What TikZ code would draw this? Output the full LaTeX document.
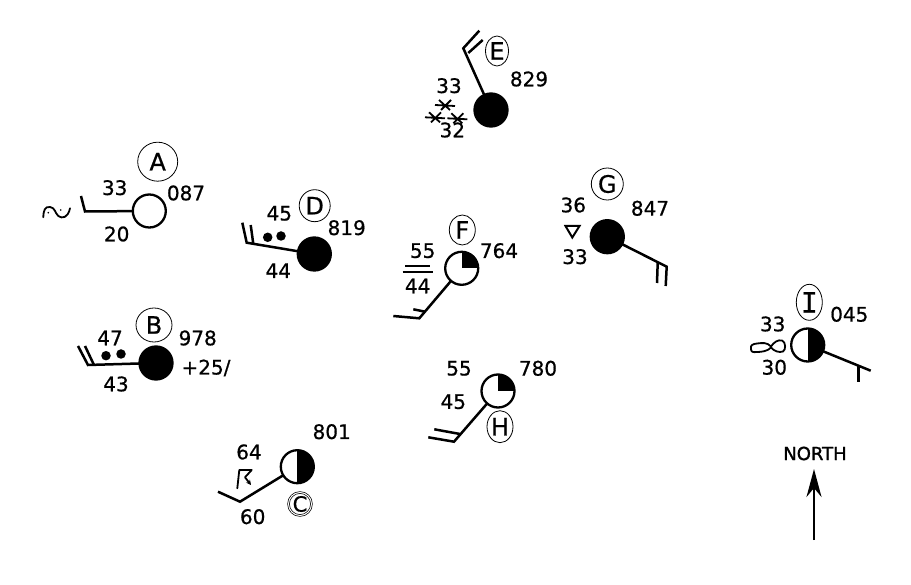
\documentclass[tikz,border=0pt]{standalone}
\usepackage{fontspec}
\setmainfont[FakeBold=0.7]{DejaVu Sans}
\newfontfamily\monolabel[FakeBold=0.7]{DejaVu Sans Mono}
\newfontfamily\northfont[FakeBold=1.6]{DejaVu Sans}
\usetikzlibrary{shapes.geometric,arrows.meta}
\tikzset{
  stn/.style={circle,draw=black,fill=white,line width=2.3pt,minimum size=33pt,inner sep=0pt,outer sep=0pt},
  stnfull/.style={stn,fill=black},
  stnhalf/.style={stn,path picture={\fill[black] (path picture bounding box.north) rectangle (path picture bounding box.south east);}},
  stnquarter/.style={stn,path picture={\fill[black] (path picture bounding box.center) rectangle (path picture bounding box.north east);}},
  shaft/.style={line width=2.5pt,line join=miter},
  wx/.style={line width=1.8pt,line cap=round,line join=round},
  num/.style={font=\fontsize{20}{20}\selectfont,inner sep=0pt},
  letter/.style={ellipse,draw=black,line width=0.8pt,inner sep=0pt,font=\fontsize{24}{24}\selectfont},
  dotw/.style={circle,fill=black,inner sep=0pt,minimum size=9.5pt},
  asterisk/.pic={\draw[line width=1.8pt] (-10,0)--(10,1) (-6,-5)--(5,5) (-4,5)--(6,-5);}
}
\begin{document}
\begin{tikzpicture}[x=1pt,y=-1pt]
\useasboundingbox (0,0) rectangle (911,585);
% A
\node[stn] (a) at (149.3,211) {};
\coordinate (a1) at (85,211.5); \coordinate (a2) at (81,196);
\draw[shaft] (a) -- (a1) -- (a2);
\node[letter,minimum width=40pt,minimum height=39pt] (la) at (157.7,161.7) {A};
\node[num] (a33) at (114.7,187.7) {33};
\node[num] (a20) at (116.7,234) {20};
\node[num] (a087) at (186,193) {087};
\draw[wx] (43.3,217.3) .. controls (43.5,210) and (45,206.5) .. (50,207) .. controls (55,207.5) and (55,213) .. (58.3,216) .. controls (62,219) and (68,218) .. (70,208.3);
\fill (48.3,212.7) circle (0.9pt) (60.7,210) circle (0.9pt);
% B
\node[stnfull] (b) at (156,363) {};
\coordinate (b1) at (88,365); \coordinate (b2) at (78,346);
\coordinate (b3) at (94,365); \coordinate (b4) at (85,346);
\draw[shaft] (b) -- (b1) -- (b2); \draw[shaft] (b3) -- (b4);
\node[dotw] (bd1) at (106,355.7) {}; \node[dotw] (bd2) at (121,354) {};
\node[letter,minimum width=36pt,minimum height=34pt] (lb) at (154,325) {B};
\node[num] (b47) at (110,338) {47};
\node[num] (b978) at (197.7,338) {978};
\node[num] (b25) at (206,368) {+25/};
\node[num] (b43) at (116,384) {43};
% C
\node[stnhalf] (c) at (297.3,466.7) {};
\coordinate (c1) at (240,501.7); \coordinate (c2) at (218,491.7);
\draw[shaft] (c) -- (c1) -- (c2);
\node[letter,double,double distance=1pt,line width=0.7pt,minimum width=23pt,minimum height=23pt,font=\fontsize{21}{21}\selectfont] (lc) at (300,504) {C};
\node[num] (c64) at (249,452) {64};
\node[num] (c60) at (252.7,516.7) {60};
\node[num] (c801) at (331.7,431.7) {801};
\draw[wx,-{Stealth[length=5pt,width=5pt]}] (237.3,488.3) -- (239.3,470) -- (251.7,470) -- (245,477.3) -- (251,485);
% D
\node[stnfull] (d) at (314.3,254) {};
\coordinate (d1) at (246.7,242.7); \coordinate (d2) at (242.3,222.7);
\coordinate (d3) at (253.3,244); \coordinate (d4) at (250.7,225);
\draw[shaft] (d) -- (d1) -- (d2); \draw[shaft] (d3) -- (d4);
\node[dotw] (dd1) at (267.7,237.3) {}; \node[dotw] (dd2) at (281,236) {};
\node[letter,minimum width=31pt,minimum height=32pt] (ld) at (314.7,205.7) {D};
\node[num] (d45) at (279.3,213.3) {45};
\node[num] (d819) at (346.7,227.7) {819};
\node[num] (d44) at (278.3,270.7) {44};
% E
\node[stnfull] (e) at (491,110) {};
\coordinate (e1) at (463.3,48.3); \coordinate (e2) at (479.3,30.7);
\coordinate (e3) at (468.3,53); \coordinate (e4) at (482.7,40);
\draw[shaft] (e) -- (e1) -- (e2); \draw[shaft] (e3) -- (e4);
\node[letter,minimum width=23pt,minimum height=30pt] (le) at (497,51) {E};
\node[num] (e829) at (529,79) {829};
\node[num] (e33) at (449,85.7) {33};
\node[num] (e32) at (452.3,130) {32};
\pic at (445,105) {asterisk};
\pic at (435,117.3) {asterisk};
\pic at (457.3,118.3) {asterisk};
% F
\node[stnquarter] (f) at (461.7,268.3) {};
\coordinate (f1) at (419.3,318.3); \coordinate (f2) at (393.3,316);
\coordinate (f3) at (425,311.7); \coordinate (f4) at (413.3,309.3);
\draw[shaft] (f) -- (f1) -- (f2); \draw[shaft] (f3) -- (f4);
\node[letter,minimum width=26pt,minimum height=30pt] (lf) at (462.3,230) {F};
\node[num] (f55) at (422.7,250.7) {55};
\node[num] (f764) at (499,250.7) {764};
\node[num] (f44) at (417.7,286) {44};
\draw[line width=1.6pt] (405,266) -- (430,266) (402.7,272.3) -- (433.3,272.3);
% G
\node[stnfull] (g) at (607.3,236.7) {};
\coordinate (g1) at (666.7,266.7); \coordinate (g2) at (665.7,286);
\coordinate (g3) at (657.7,263); \coordinate (g4) at (657,283);
\draw[shaft] (g) -- (g1) -- (g2); \draw[shaft] (g3) -- (g4);
\node[letter,minimum width=32pt,minimum height=32pt] (lg) at (607.3,184) {G};
\node[num] (g36) at (573.3,205) {36};
\node[num] (g847) at (650,208.3) {847};
\node[num] (g33) at (575,256.7) {33};
\draw[line width=2pt,line join=miter] (565.5,226) -- (579.5,226) -- (572.3,237.5) -- cycle;
% H
\node[stnquarter] (h) at (498,391) {};
\coordinate (h1) at (454,441.7); \coordinate (h2) at (428.3,437.3);
\coordinate (h3) at (460,434); \coordinate (h4) at (434.3,429.3);
\draw[shaft] (h) -- (h1) -- (h2); \draw[shaft] (h3) -- (h4);
\node[letter,minimum width=26pt,minimum height=32pt] (lh) at (500,426.7) {H};
\node[num] (h55) at (459,368.3) {55};
\node[num] (h45) at (453.3,401.7) {45};
\node[num] (h780) at (538,368.3) {780};
% I
\node[stnhalf] (i) at (807.7,345) {};
\coordinate (i1) at (870.7,370.7); \coordinate (i2) at (858.3,366); \coordinate (i3) at (858.3,381.7);
\draw[shaft] (i) -- (i1); \draw[shaft] (i2) -- (i3);
\node[letter,font=\fontsize{28}{28}\selectfont\monolabel,minimum width=26pt,minimum height=36pt] (li) at (809.3,302.3) {I};
\node[num] (i045) at (849.3,314.3) {045};
\node[num] (i33) at (772.7,324) {33};
\node[num] (i30) at (774.3,367.3) {30};
\draw[wx] (751,349) .. controls (750,345) and (753,344) .. (757,343.5) .. controls (762,343) and (767,342) .. (771,346.5) .. controls (774,342) and (778,339.5) .. (782,340.5) .. controls (786,342) and (786,350) .. (783,351.5) .. controls (779,353) and (774,351) .. (771,347.5) .. controls (768,351) and (762,352) .. (757,352) .. controls (753,352.5) and (751,352) .. (751,349) -- cycle;
% North
\node[font=\fontsize{18}{18}\selectfont\northfont,inner sep=0pt] (north) at (815,453.5) {NORTH};
\coordinate (n1) at (814,540); \coordinate (n2) at (814,469);
\draw[line width=2.4pt,-{Stealth[length=28pt,width=15pt,inset=9pt]}] (n1) -- (n2);
\end{tikzpicture}
\end{document}
